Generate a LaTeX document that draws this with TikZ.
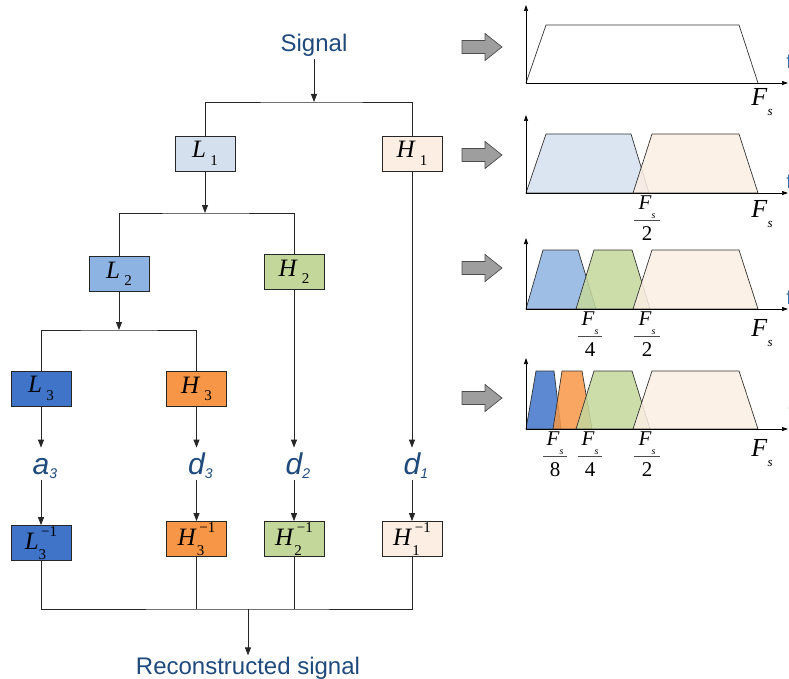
\documentclass[tikz,border=0pt]{standalone}
\usepackage{fontspec}
\setmainfont{Liberation Serif}
\newfontfamily\arial{Liberation Sans}
\usetikzlibrary{arrows.meta}
\definecolor{txtblue}{HTML}{1F4A7C}
\definecolor{fblue}{HTML}{2E6FB0}
\definecolor{cLa}{HTML}{D5E0EE}
\definecolor{cHa}{HTML}{FCEEE3}
\definecolor{cLb}{HTML}{8DB3E2}
\definecolor{cHb}{HTML}{C4D79B}
\definecolor{cLc}{HTML}{3F74C9}
\definecolor{cHc}{HTML}{F79646}
\newcommand\fsub[2]{\textit{#1}\,\raisebox{-0.3em}{\fontsize{15}{15}\selectfont #2}}
\newcommand\finv[2]{\textit{#1}\rlap{\raisebox{-0.4em}{\fontsize{15}{15}\selectfont #2}}\raisebox{0.5em}{\fontsize{15}{15}\selectfont\,−1}}
\newcommand\coef[2]{#1\rlap{\raisebox{-0.15em}{\fontsize{14}{14}\selectfont #2}}}
\newcommand\Fsl[1]{\textit{F}\raisebox{-0.4em}{\fontsize{#1}{#1}\selectfont\textit{s}}}
\begin{document}
\begin{tikzpicture}[x=1pt,y=-1pt,line width=0.8pt,
  box/.style={draw=black!85,minimum width=60pt,minimum height=35pt,inner sep=0pt,font=\fontsize{25}{25}\selectfont},
  conn/.style={draw=black!85},
  arr/.style={conn,-{Triangle[length=8pt,width=6pt]}},
  axarr/.style={draw=black,line width=0.7pt,-{Triangle[length=6pt,width=4pt]}},
  lbl/.style={font=\arial\itshape\fontsize{30}{30}\selectfont,text=txtblue,text height=20pt,text depth=0pt,inner ysep=6pt,inner xsep=0pt,anchor=base},
  garr/.style={draw=black!70,fill=black!38,line width=0.7pt},
  trap/.style={draw=black!80,line width=0.7pt,fill opacity=0.85},
  bigF/.style={font=\fontsize{26}{26}\selectfont,inner sep=0pt},
  fracF/.style={font=\fontsize{21}{21}\selectfont,inner sep=0pt},
  fline/.style={draw=black!70,line width=0.6pt},
  fnode/.style={font=\arial\fontsize{20}{20}\selectfont,text=fblue,anchor=west,inner sep=0pt}
]
\useasboundingbox (0,0) rectangle (789,679);
\clip (0,0) rectangle (789,679);

% ---------- tree ----------
\node[font=\arial\fontsize{24}{24}\selectfont,text=txtblue,inner sep=2pt] (sig) at (314,45) {Signal};
\coordinate (j1) at (314,102);
\node[box,fill=cLa] (L1) at (205,153.5) {\fsub{L}{1}};
\node[box,fill=cHa] (H1) at (412,153.5) {\fsub{H}{1}};
\draw[arr] (sig.south) -- (j1);
\draw[conn] (L1.north) |- (j1) -| (H1.north);

\coordinate (j2) at (205,213);
\node[box,fill=cLb] (L2) at (119,274) {\fsub{L}{2}};
\node[box,fill=cHb] (H2) at (294,272) {\fsub{H}{2}};
\draw[arr] (L1.south) -- (j2);
\draw[conn] (L2.north) |- (j2) -| (H2.north);

\coordinate (j3) at (119,330);
\node[box,fill=cLc] (L3) at (41,388.5) {\fsub{L}{3}};
\node[box,fill=cHc] (H3) at (196.5,389) {\fsub{H}{3}};
\draw[arr] (L2.south) -- (j3);
\draw[conn] (L3.north) |- (j3) -| (H3.north);

\node[lbl] (a3) at (41,474) {\coef{a}{3}};
\node[lbl] (d3) at (196.5,474) {\coef{d}{3}};
\node[lbl] (d2) at (294,474) {\coef{d}{2}};
\node[lbl] (d1) at (412,474) {\coef{d}{1}};
\draw[arr] (L3.south) -- (a3.north);
\draw[arr] (H3.south) -- (d3.north);
\draw[arr] (H2.south) -- (d2.north);
\draw[arr] (H1.south) -- (d1.north);

\node[box,fill=cLc] (L3i) at (41,543) {\finv{L}{3}};
\node[box,fill=cHc] (H3i) at (196.5,539) {\finv{H}{3}};
\node[box,fill=cHb] (H2i) at (294,539) {\finv{H}{2}};
\node[box,fill=cHa] (H1i) at (412,539) {\finv{H}{1}};
\draw[arr] (a3.south) -- (L3i.north);
\draw[arr] (d3.south) -- (H3i.north);
\draw[arr] (d2.south) -- (H2i.north);
\draw[arr] (d1.south) -- (H1i.north);

\coordinate (j4) at (248,609);
\draw[conn] (L3i.south) |- (j4) -| (H1i.south);
\draw[conn] (H3i.south) -- (H3i.south |- j4);
\draw[conn] (H2i.south) -- (H2i.south |- j4);
\node[font=\arial\fontsize{24}{24}\selectfont,text=txtblue,inner sep=1pt] (rec) at (248,668) {Reconstructed signal};
\draw[arr] (j4) -- (rec.north);

% ---------- gray arrows ----------
\foreach \yy in {47,155,268,398}{
  \draw[garr,shift={(462,\yy)}] (0,-6.5) -- (23,-6.5) -- (23,-13.5) -- (40,0) -- (23,13.5) -- (23,6.5) -- (0,6.5) -- cycle;
}

% ---------- panel 1 ----------
\begin{scope}[shift={(0,83)}]
  \draw[trap,fill=white] (526,0) -- (546,-58) -- (739,-58) -- (758,0);
  \draw[axarr] (526,0) -- (526,-78);
  \draw[axarr] (526,0) -- (788,0);
  \node[bigF] (P1F) at (762,19) {\Fsl{13}};
  \node[fnode] (P1f) at (786,-22) {f};
\end{scope}

% ---------- panel 2 ----------
\begin{scope}[shift={(0,193)}]
  \draw[trap,fill=cLa] (526,0) -- (546,-59) -- (631,-59) -- (649,0) -- cycle;
  \draw[trap,fill=cHa] (633,0) -- (652,-59) -- (739,-59) -- (758,0) -- cycle;
  \draw[axarr] (526,0) -- (526,-78);
  \draw[axarr] (526,0) -- (788,0);
  \node[fracF] (P2n) at (647,14) {\Fsl{10}};
  \draw[fline] (634,27) -- (660,27);
  \node[fracF] (P2d) at (647,41) {2};
  \node[bigF] (P2F) at (762,21) {\Fsl{13}};
  \node[fnode] (P2f) at (786,-12) {f};
\end{scope}

% ---------- panel 3 ----------
\begin{scope}[shift={(0,309)}]
  \draw[trap,fill=cLb] (526,0) -- (543,-59) -- (578,-59) -- (596,0) -- cycle;
  \draw[trap,fill=cHb] (576,0) -- (594,-59) -- (632,-59) -- (650,0) -- cycle;
  \draw[trap,fill=cHa] (633,0) -- (652,-59) -- (739,-59) -- (758,0) -- cycle;
  \draw[axarr] (526,0) -- (526,-71);
  \draw[axarr] (526,0) -- (788,0);
  \node[fracF] (P3n1) at (590,14) {\Fsl{10}};
  \draw[fline] (578,27) -- (602,27);
  \node[fracF] (P3d1) at (590,41) {4};
  \node[fracF] (P3n2) at (647,14) {\Fsl{10}};
  \draw[fline] (634,27) -- (660,27);
  \node[fracF] (P3d2) at (647,41) {2};
  \node[bigF] (P3F) at (762,24) {\Fsl{13}};
  \node[fnode] (P3f) at (786,-12) {f};
\end{scope}

% ---------- panel 4 ----------
\begin{scope}[shift={(0,429)}]
  \draw[trap,fill=cLc] (526,0) -- (536,-58) -- (554,-58) -- (561,0) -- cycle;
  \draw[trap,fill=cHc] (553,0) -- (562,-58) -- (582,-58) -- (592,0) -- cycle;
  \draw[trap,fill=cHb] (576,0) -- (594,-58) -- (632,-58) -- (650,0) -- cycle;
  \draw[trap,fill=cHa] (633,0) -- (652,-58) -- (739,-58) -- (758,0) -- cycle;
  \draw[axarr] (526,0) -- (526,-71);
  \draw[axarr] (526,0) -- (788,0);
  \node[fracF] (P4n1) at (555,14) {\Fsl{10}};
  \draw[fline] (543,27) -- (567,27);
  \node[fracF] (P4d1) at (555,41) {8};
  \node[fracF] (P4n2) at (590,14) {\Fsl{10}};
  \draw[fline] (578,27) -- (602,27);
  \node[fracF] (P4d2) at (590,41) {4};
  \node[fracF] (P4n3) at (647,14) {\Fsl{10}};
  \draw[fline] (634,27) -- (660,27);
  \node[fracF] (P4d3) at (647,41) {2};
  \node[bigF] (P4F) at (762,24) {\Fsl{13}};
  \node[fnode] (P4f) at (788.3,-18) {f};
\end{scope}
\end{tikzpicture}
\end{document}
